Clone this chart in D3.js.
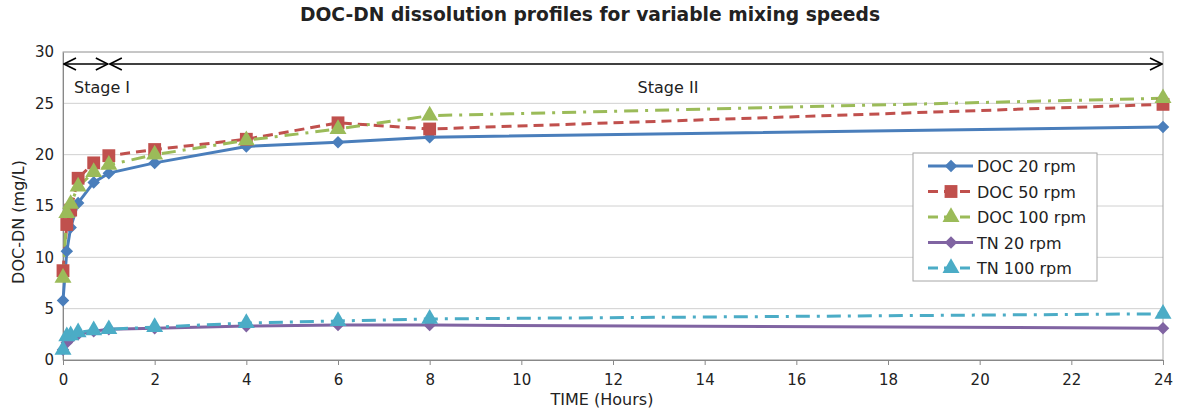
<!DOCTYPE html>
<html>
<head>
<meta charset="utf-8">
<script src="https://cdn.jsdelivr.net/npm/d3@7"></script>
<style>
body { margin: 0; background: #fff; }
text { font-family: Tahoma, "DejaVu Sans", sans-serif; fill: #222; }
</style>
</head>
<body>
<div class="canva"></div>
<script>
// sampling times in hours
const times = [0, 0.083, 0.167, 0.33, 0.67, 1, 2, 4, 6, 8, 24];

const doc20 = [5.8, 10.6, 12.9, 15.3, 17.3, 18.2, 19.2, 20.8, 21.2, 21.7, 22.7];
const doc50 = [8.7, 13.2, 14.6, 17.7, 19.2, 19.9, 20.5, 21.5, 23.1, 22.5, 24.9];
const doc100 = [8.0, 14.3, 15.2, 16.9, 18.3, 19.0, 20.0, 21.4, 22.5, 23.8, 25.5];
const tn20 = [1.0, 1.7, 2.1, 2.5, 2.8, 3.0, 3.1, 3.3, 3.4, 3.4, 3.1];
const tn100 = [1.0, 2.3, 2.4, 2.7, 2.9, 3.0, 3.2, 3.6, 3.8, 4.0, 4.5];

const seriesNames = ["DOC 20 rpm", "DOC 50 rpm", "DOC 100 rpm", "TN 20 rpm", "TN 100 rpm"];
const xTicks = [0, 2, 4, 6, 8, 10, 12, 14, 16, 18, 20, 22, 24];
const yTicks = [0, 5, 10, 15, 20, 25, 30];

const series = [
  {name: seriesNames[0], vals: doc20, color: "#4a7ebb", dash: null, shape: d3.symbolDiamond2, size: 100},
  {name: seriesNames[1], vals: doc50, color: "#c0504d", dash: "10,6", shape: d3.symbolSquare, size: 165},
  {name: seriesNames[2], vals: doc100, color: "#9bbb59", dash: "14,7,3,7", shape: d3.symbolTriangle, size: 125},
  {name: seriesNames[3], vals: tn20, color: "#8064a2", dash: null, shape: d3.symbolDiamond2, size: 100},
  {name: seriesNames[4], vals: tn100, color: "#4bacc6", dash: "14,7,3,7", shape: d3.symbolTriangle, size: 125}
];

const W = 1182, H = 410;
const pl = 63, pr = 1163, pt = 52, pb = 360;

const svg = d3.select(".canva").append("svg")
  .attr("width", W)
  .attr("height", H);

const x = d3.scaleLinear().domain([0, 24]).range([pl, pr]);
const y = d3.scaleLinear().domain([0, 30]).range([pb, pt]);

// title
svg.append("text")
  .text("DOC-DN dissolution profiles for variable mixing speeds")
  .attr("x", 590)
  .attr("y", 21)
  .attr("text-anchor", "middle")
  .attr("font-weight", "bold")
  .attr("font-size", 18.7);

// grid
svg.append("g").selectAll("line")
  .data(yTicks)
  .join("line")
  .attr("x1", pl)
  .attr("x2", pr)
  .attr("y1", d => y(d))
  .attr("y2", d => y(d))
  .attr("stroke", "#d0d0d0");

svg.append("rect")
  .attr("x", pl)
  .attr("y", pt)
  .attr("width", pr - pl)
  .attr("height", pb - pt)
  .attr("fill", "none")
  .attr("stroke", "#a6a6a6");

// axes
const xAxis = svg.append("g")
  .attr("transform", `translate(0,${pb})`)
  .call(d3.axisBottom(x).tickValues(xTicks).tickSize(5).tickPadding(9));
xAxis.select(".domain").attr("stroke", "#888");
xAxis.selectAll(".tick line").attr("stroke", "#888");
xAxis.selectAll("text").attr("font-size", 15).attr("fill", "#222");

const yAxis = svg.append("g")
  .attr("transform", `translate(${pl},0)`)
  .call(d3.axisLeft(y).tickValues(yTicks).tickSize(0).tickPadding(9));
yAxis.select(".domain").attr("stroke", "#888");
yAxis.selectAll("text").attr("font-size", 15).attr("fill", "#222");

svg.append("text")
  .text("TIME (Hours)")
  .attr("x", 602)
  .attr("y", 405)
  .attr("text-anchor", "middle")
  .attr("font-size", 16);

svg.append("text")
  .text("DOC-DN (mg/L)")
  .attr("transform", `translate(24,222) rotate(-90)`)
  .attr("text-anchor", "middle")
  .attr("font-size", 16);

// stage arrows
const defs = svg.append("defs");
defs.append("marker")
  .attr("id", "arr")
  .attr("viewBox", "0 0 14 14")
  .attr("refX", 13)
  .attr("refY", 7)
  .attr("markerWidth", 14)
  .attr("markerHeight", 14)
  .attr("markerUnits", "userSpaceOnUse")
  .attr("orient", "auto-start-reverse")
  .append("path")
  .attr("d", "M1,1 L13,7 L1,13")
  .attr("fill", "none")
  .attr("stroke", "#000")
  .attr("stroke-width", 1.6);

const stages = [[0, 1], [1, 24]];
svg.append("g").selectAll("line")
  .data(stages)
  .join("line")
  .attr("x1", d => x(d[0]) + 1)
  .attr("x2", d => x(d[1]) - 1)
  .attr("y1", 64)
  .attr("y2", 64)
  .attr("stroke", "#000")
  .attr("stroke-width", 1.6)
  .attr("marker-start", "url(#arr)")
  .attr("marker-end", "url(#arr)");

svg.append("text").text("Stage I").attr("x", 74).attr("y", 93).attr("font-size", 16);
svg.append("text").text("Stage II").attr("x", 668).attr("y", 93)
  .attr("text-anchor", "middle").attr("font-size", 16);

// lines and markers
const line = d3.line()
  .x((d, i) => x(times[i]))
  .y(d => y(d));

const g = svg.append("g");
series.forEach(s => {
  g.append("path")
    .datum(s.vals)
    .attr("d", line)
    .attr("fill", "none")
    .attr("stroke", s.color)
    .attr("stroke-width", 3)
    .attr("stroke-dasharray", s.dash);
});
series.forEach(s => {
  g.append("g").selectAll("path")
    .data(s.vals)
    .join("path")
    .attr("transform", (d, i) => `translate(${x(times[i])},${y(d)})`)
    .attr("d", d3.symbol().type(s.shape).size(s.size))
    .attr("fill", s.color);
});

// legend
const lg = svg.append("g").attr("transform", "translate(913,153)");
lg.append("rect")
  .attr("width", 184)
  .attr("height", 128)
  .attr("fill", "#fff")
  .attr("stroke", "#a6a6a6");
const items = lg.selectAll("g")
  .data(series)
  .join("g")
  .attr("transform", (d, i) => `translate(0,${13 + i * 25.5})`);
items.append("line")
  .attr("x1", 15)
  .attr("x2", 60)
  .attr("stroke", d => d.color)
  .attr("stroke-width", 3)
  .attr("stroke-dasharray", d => d.dash ? "10,6" : null);
items.append("path")
  .attr("transform", "translate(38,0)")
  .attr("d", d => d3.symbol().type(d.shape).size(d.size)())
  .attr("fill", d => d.color);
items.append("text")
  .text(d => d.name)
  .attr("x", 64)
  .attr("y", 6)
  .attr("font-size", 16);
</script>
</body>
</html>
